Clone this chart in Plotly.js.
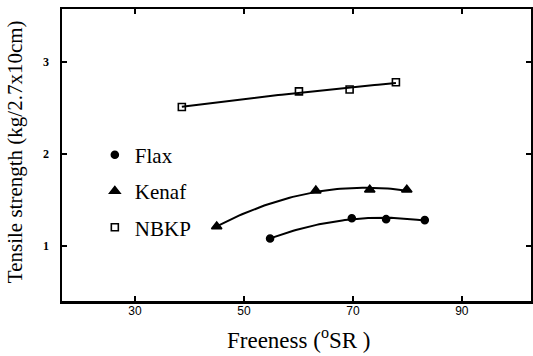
<!DOCTYPE html>
<html>
<head>
<meta charset="utf-8">
<script src="https://cdn.plot.ly/plotly-3.0.1.min.js"></script>
<style>html,body{margin:0;padding:0;background:#fff;}#chart{width:533px;height:356px;}</style>
</head>
<body>
<div id="chart"></div>
<script>
// Data
const seriesNames = ["Flax", "Kenaf", "NBKP"];
const flaxX = [54.8, 69.8, 76.1, 83.2];
const flaxY = [1.08, 1.30, 1.29, 1.28];
const kenafX = [45.0, 63.2, 73.1, 79.9];
const kenafY = [1.21, 1.60, 1.61, 1.61];
const nbkpX = [38.6, 60.1, 69.4, 77.9];
const nbkpY = [2.51, 2.68, 2.70, 2.78];
const xTicks = [30, 50, 70, 90];
const yTicks = [1, 2, 3];

// quadratic least-squares fit, sampled along the data range
function quadFit(xs, ys) {
  let s = [0,0,0,0,0], t = [0,0,0];
  for (let i = 0; i < xs.length; i++) {
    const x = xs[i], y = ys[i];
    for (let k = 0; k < 5; k++) s[k] += Math.pow(x, k);
    for (let k = 0; k < 3; k++) t[k] += y * Math.pow(x, k);
  }
  const A = [[s[0], s[1], s[2], t[0]], [s[1], s[2], s[3], t[1]], [s[2], s[3], s[4], t[2]]];
  for (let i = 0; i < 3; i++) {
    let p = i;
    for (let r = i + 1; r < 3; r++) if (Math.abs(A[r][i]) > Math.abs(A[p][i])) p = r;
    [A[i], A[p]] = [A[p], A[i]];
    for (let r = 0; r < 3; r++) {
      if (r === i) continue;
      const f = A[r][i] / A[i][i];
      for (let c = i; c < 4; c++) A[r][c] -= f * A[i][c];
    }
  }
  const c = [A[0][3] / A[0][0], A[1][3] / A[1][1], A[2][3] / A[2][2]];
  const x0 = Math.min(...xs), x1 = Math.max(...xs);
  const fx = [], fy = [];
  for (let i = 0; i <= 60; i++) {
    const x = x0 + (x1 - x0) * i / 60;
    fx.push(x); fy.push(c[0] + c[1] * x + c[2] * x * x);
  }
  return {x: fx, y: fy};
}

const allX = [flaxX, kenafX, nbkpX];
const allY = [flaxY, kenafY, nbkpY];
const symbols = ["circle", "triangle-up", "square-open"];
const sizes = [7, 9, 7];

const traces = [];
for (let i = 0; i < 3; i++) {
  const f = quadFit(allX[i], allY[i]);
  traces.push({x: f.x, y: f.y, mode: "lines", line: {color: "#000", width: 2}, showlegend: false, hoverinfo: "skip"});
}
for (let i = 0; i < 3; i++) {
  traces.push({
    x: allX[i], y: allY[i], mode: "markers", name: seriesNames[i], legendgroup: seriesNames[i],
    marker: {symbol: symbols[i], size: sizes[i], color: "#000", line: {color: "#000", width: 1.6}}
  });
}

const layout = {
  width: 533, height: 356,
  margin: {l: 62, r: 2, t: 9, b: 55},
  paper_bgcolor: "#fff", plot_bgcolor: "#fff",
  showlegend: true,
  legend: {x: 0.07, y: 0.57, xanchor: "left", yanchor: "top", traceorder: "grouped", tracegroupgap: 6,
    font: {family: "Liberation Serif", size: 21, color: "#000"}, bgcolor: "rgba(0,0,0,0)"},
  xaxis: {range: [16.6, 102.7], tickvals: xTicks, ticktext: xTicks.map(String), ticks: "inside", ticklen: 5, tickwidth: 1.5,
    tickcolor: "#000", showline: true, linewidth: 2.5, linecolor: "#000", mirror: "ticks", showgrid: false, zeroline: false,
    tickfont: {family: "Liberation Sans", size: 12, color: "#000"}, ticklabelstandoff: -3},
  yaxis: {range: [0.40, 3.576], tickvals: yTicks, ticktext: yTicks.map(String), ticks: "inside", ticklen: 5, tickwidth: 1.5,
    tickcolor: "#000", showline: true, linewidth: 2.5, linecolor: "#000", mirror: "ticks", showgrid: false, zeroline: false,
    tickfont: {family: "Liberation Serif", size: 12, color: "#000", weight: "bold"}, ticklabelstandoff: 8},
  annotations: [
    {text: "Freeness (<sup>o</sup>SR )", xref: "paper", yref: "paper", x: 0.505, y: -0.13, xanchor: "center", yanchor: "middle",
      showarrow: false, font: {family: "Liberation Serif", size: 23, color: "#000"}},
    {text: "Tensile strength (kg/2.7x10cm)", xref: "paper", yref: "paper", x: -0.1, y: 0.51, xanchor: "center", yanchor: "middle",
      textangle: -90, showarrow: false, font: {family: "Liberation Serif", size: 21, color: "#000"}}
  ]
};

Plotly.newPlot("chart", traces, layout, {displayModeBar: false, staticPlot: true});
</script>
</body>
</html>
